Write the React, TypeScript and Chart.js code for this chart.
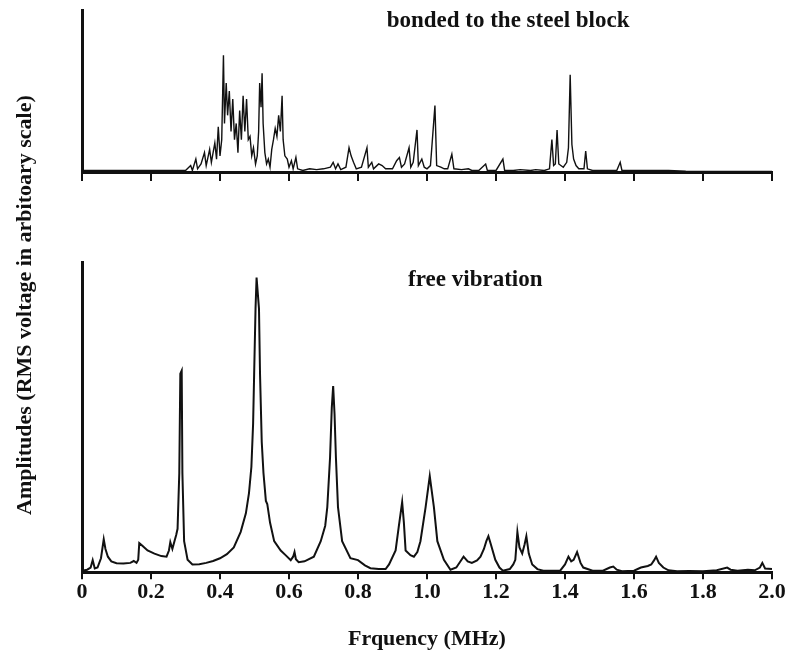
import { useEffect, useRef } from "react";
import { Chart, registerables } from "chart.js";

Chart.register(...registerables);

// Frequency (MHz) axis ticks
const X_TICKS = [0, 0.2, 0.4, 0.6, 0.8, 1.0, 1.2, 1.4, 1.6, 1.8, 2.0];
const X_TICK_LABELS = ["0", "0.2", "0.4", "0.6", "0.8", "1.0", "1.2", "1.4", "1.6", "1.8", "2.0"];

const PANEL_LABELS = ["bonded to the steel block", "free vibration"];
const Y_TITLE = "Amplitudes (RMS voltage in arbitoary scale)";
const X_TITLE = "Frquency (MHz)";

// Top panel: bonded to the steel block (arbitrary amplitude 0-100)
const BONDED_X = [
  0.0, 0.1, 0.2, 0.3, 0.315, 0.32, 0.33, 0.335, 0.345, 0.355, 0.36, 0.37, 0.375, 0.385, 0.39, 0.395,
  0.4, 0.405, 0.41, 0.413, 0.418, 0.422, 0.427, 0.432, 0.437, 0.442, 0.447, 0.452, 0.457, 0.462,
  0.467, 0.472, 0.477, 0.482, 0.487, 0.492, 0.497, 0.503, 0.508, 0.512, 0.515, 0.519, 0.522, 0.525,
  0.53, 0.535, 0.54, 0.545, 0.55, 0.555, 0.56, 0.565, 0.57, 0.575, 0.58, 0.583, 0.588, 0.595, 0.6,
  0.607, 0.612, 0.62, 0.625, 0.64, 0.66, 0.68, 0.7, 0.72, 0.728, 0.735, 0.742, 0.75, 0.765, 0.774,
  0.78, 0.787, 0.795, 0.81, 0.826, 0.83, 0.84, 0.845, 0.86, 0.87, 0.88, 0.9, 0.912, 0.92, 0.926,
  0.935, 0.948, 0.953, 0.96, 0.971, 0.975, 0.985, 0.992, 1.0, 1.01, 1.023, 1.028, 1.04, 1.05, 1.06,
  1.072, 1.078, 1.1, 1.12, 1.13, 1.15, 1.17, 1.175, 1.2, 1.22, 1.225, 1.25, 1.27, 1.3, 1.315, 1.34,
  1.355, 1.362, 1.367, 1.372, 1.377, 1.382, 1.395, 1.405, 1.41, 1.415, 1.42, 1.425, 1.432, 1.44,
  1.455, 1.46, 1.465, 1.48, 1.52, 1.55, 1.56, 1.565, 1.6, 1.65, 1.7, 1.75, 1.8, 1.9, 2.0,
];
const BONDED_Y = [
  1, 1, 1, 1, 4, 1, 8, 2, 5, 12, 4, 14, 6, 18, 8, 28,
  10, 20, 72, 30, 55, 35, 50, 25, 45, 20, 30, 12, 38, 20,
  47, 25, 45, 20, 22, 10, 15, 5, 10, 25, 55, 40, 61, 30,
  12, 5, 8, 3, 14, 20, 27, 22, 35, 25, 47, 20, 10, 8, 3,
  7, 2, 9, 2, 1, 2, 1.5, 2, 3, 6, 2, 5, 1.5, 3, 15,
  10, 6, 2, 3, 15, 3, 6, 2, 5, 4, 2, 2, 7, 9, 3,
  5, 15, 3, 6, 26, 4, 8, 3, 2, 4, 41, 4, 3, 2, 2,
  11, 2, 1.5, 2, 1, 1, 5, 1, 1, 8, 1, 1, 1.5, 1, 1.5, 1,
  2, 20, 4, 5, 26, 5, 3, 6, 15, 60, 17, 8, 4, 2,
  2, 13, 2, 1, 1, 1, 6, 1, 1, 1, 1, 0.5, 0.3, 0.3, 0.3,
];

// Bottom panel: free vibration (arbitrary amplitude 0-100)
const FREE_X = [
  0.0, 0.015, 0.025, 0.031, 0.037, 0.045, 0.055, 0.063, 0.068, 0.075, 0.085, 0.1, 0.12, 0.14, 0.15,
  0.158, 0.163, 0.166, 0.175, 0.19, 0.21, 0.23, 0.245, 0.252, 0.256, 0.262, 0.268, 0.273, 0.277,
  0.282, 0.285, 0.289, 0.291, 0.296, 0.306, 0.32, 0.34, 0.36, 0.38, 0.4, 0.42, 0.44, 0.46,
  0.475, 0.484, 0.491, 0.496, 0.499, 0.503, 0.506, 0.513, 0.516, 0.521, 0.526, 0.533, 0.537,
  0.545, 0.557, 0.576, 0.59, 0.605, 0.612, 0.616, 0.62, 0.628, 0.645, 0.672, 0.692,
  0.705, 0.711, 0.719, 0.724, 0.728, 0.732, 0.736, 0.742, 0.754, 0.778, 0.8, 0.82, 0.836, 0.86,
  0.88, 0.89, 0.909, 0.918, 0.928, 0.933, 0.938, 0.952, 0.962, 0.972, 0.981, 0.996,
  1.008, 1.02, 1.03, 1.049, 1.068, 1.085, 1.1, 1.106, 1.118, 1.13, 1.145, 1.155,
  1.165, 1.172, 1.178, 1.185, 1.198, 1.21, 1.22, 1.24, 1.25, 1.256, 1.262, 1.268, 1.276, 1.283,
  1.288, 1.295, 1.305, 1.32, 1.337, 1.36, 1.386, 1.4, 1.41, 1.418, 1.425, 1.435, 1.445, 1.453,
  1.48, 1.51, 1.53, 1.54, 1.55, 1.565, 1.6, 1.62, 1.64, 1.65, 1.658, 1.664, 1.672, 1.685, 1.7,
  1.725, 1.76, 1.8, 1.84, 1.87, 1.88, 1.9, 1.93, 1.95, 1.965, 1.972, 1.98, 2.0,
];
const FREE_Y = [
  0.5, 0.8, 1.5, 3.9, 1.2, 1.5, 4.5, 10.6, 7.5, 5.0, 3.5, 2.9, 2.8, 3.0, 3.6,
  3.0, 4.0, 9.4, 8.5, 7.0, 6.0, 5.2, 5.0, 7.0, 9.7, 7.5, 10, 12, 14,
  32, 64, 65, 32, 10, 4, 2.5, 2.6, 3.0, 3.6, 4.5, 5.8, 8.0, 13,
  19, 25.5, 34, 48, 64, 85, 95, 85, 64, 42, 32, 23, 22,
  16, 10, 7, 5.5, 3.9, 5, 6.5, 4.2, 3.2, 3.5, 5, 10,
  15, 21, 37, 53, 60, 51, 37, 21, 10, 4.5, 3.9, 2.2, 1.3, 1.0,
  1.0, 2.5, 7, 14.5, 22.6, 16, 7, 5.5, 5, 6.5, 10, 21,
  31, 21, 10, 4, 0.8, 1.5, 4, 5, 3.5, 3, 3.8, 5,
  7.5, 10, 11.6, 9, 4, 1.5, 0.5, 1, 2.5, 4, 13, 8, 6, 9,
  11.6, 6, 2.5, 1, 0.5, 0.5, 0.5, 2.5, 5, 3.5, 4, 6.5, 3, 1.5,
  0.5, 0.5, 1.5, 1.8, 0.8, 0.3, 0.5, 1.5, 2, 2.5, 3.8, 5, 3, 1.5, 0.6,
  0.3, 0.4, 0.3, 0.6, 1.5, 0.8, 0.5, 0.8, 0.6, 1.5, 3, 1.2, 1,
];

const FONT_FAMILY = '"Liberation Serif", "Times New Roman", serif';
const INK = "#111";

export default function App() {
  const canvasRef = useRef<HTMLCanvasElement | null>(null);

  useEffect(() => {
    const canvas = canvasRef.current;
    if (!canvas) return;

    const setTicks = (scale: any) => {
      scale.ticks = X_TICKS.map((v) => ({ value: v }));
    };

    const textPlugin = {
      id: "panelText",
      afterDraw(chart: any) {
        const { ctx, chartArea } = chart;
        const xs = chart.scales.x;
        const yT = chart.scales.yT;
        const yB = chart.scales.yB;
        ctx.save();
        ctx.fillStyle = INK;
        ctx.textAlign = "center";
        ctx.textBaseline = "middle";
        ctx.font = `bold 23px ${FONT_FAMILY}`;
        ctx.fillText(PANEL_LABELS[0], xs.getPixelForValue(1.235), yT.top + 11);
        ctx.fillText(PANEL_LABELS[1], xs.getPixelForValue(1.14), yB.top + 18);
        ctx.font = `bold 22px ${FONT_FAMILY}`;
        ctx.translate(25, (chartArea.top + chartArea.bottom) / 2 + 14);
        ctx.rotate(-Math.PI / 2);
        ctx.fillText(Y_TITLE, 0, 0);
        ctx.restore();
      },
    };

    const chart = new Chart(canvas, {
      type: "line",
      data: {
        datasets: [
          {
            data: BONDED_X.map((x, i) => ({ x, y: BONDED_Y[i] })),
            xAxisID: "x",
            yAxisID: "yT",
            borderColor: INK,
            borderWidth: 1.4,
            pointRadius: 0,
            tension: 0,
            fill: false,
          },
          {
            data: FREE_X.map((x, i) => ({ x, y: FREE_Y[i] })),
            xAxisID: "x",
            yAxisID: "yB",
            borderColor: INK,
            borderWidth: 2,
            pointRadius: 0,
            tension: 0,
            fill: false,
          },
        ],
      },
      options: {
        animation: false,
        responsive: false,
        devicePixelRatio: 1,
        layout: { padding: { left: 82, right: 20, top: 10, bottom: 4 } },
        plugins: {
          legend: { display: false },
          tooltip: { enabled: false },
          title: { display: false },
        },
        events: [],
        scales: {
          x: {
            type: "linear",
            position: "bottom",
            min: 0,
            max: 2,
            afterBuildTicks: setTicks,
            ticks: {
              autoSkip: false,
              maxRotation: 0,
              padding: 0,
              color: INK,
              font: { family: FONT_FAMILY, size: 22, weight: "bold" },
              callback: (_v: any, i: number) => X_TICK_LABELS[i],
            },
            grid: {
              display: true,
              drawOnChartArea: false,
              drawTicks: true,
              tickLength: 7,
              color: INK,
              lineWidth: 2,
            },
            border: { display: true, color: INK, width: 3 },
            title: {
              display: true,
              text: X_TITLE,
              color: INK,
              font: { family: FONT_FAMILY, size: 22, weight: "bold" },
              padding: { top: 21, bottom: 2 },
            },
          },
          xT: {
            type: "linear",
            axis: "x",
            position: { yT: 0 } as any,
            min: 0,
            max: 2,
            afterBuildTicks: setTicks,
            ticks: { display: false },
            grid: {
              display: true,
              drawOnChartArea: false,
              drawTicks: true,
              tickLength: 7,
              color: INK,
              lineWidth: 2,
            },
            border: { display: true, color: INK, width: 3 },
          },
          yB: {
            type: "linear",
            axis: "y",
            position: "left",
            stack: "panels",
            stackWeight: 310,
            min: 0,
            max: 100,
            ticks: { display: false },
            grid: { display: false, drawTicks: false },
            border: { display: true, color: INK, width: 3 },
          },
          yGap: {
            type: "linear",
            axis: "y",
            position: "left",
            stack: "panels",
            stackWeight: 90,
            min: 0,
            max: 1,
            ticks: { display: false },
            grid: { display: false, drawTicks: false },
            border: { display: false },
          },
          yT: {
            type: "linear",
            axis: "y",
            position: "left",
            stack: "panels",
            stackWeight: 162,
            min: 0,
            max: 100,
            ticks: { display: false },
            grid: { display: false, drawTicks: false },
            border: { display: true, color: INK, width: 3 },
          },
        },
      } as any,
      plugins: [textPlugin],
    });

    return () => chart.destroy();
  }, []);

  return (
    <div
      style={{
        position: "absolute",
        left: 0,
        top: 0,
        width: 792,
        height: 659,
        background: "#fff",
      }}
    >
      <canvas ref={canvasRef} width={792} height={659} style={{ display: "block" }} />
    </div>
  );
}
